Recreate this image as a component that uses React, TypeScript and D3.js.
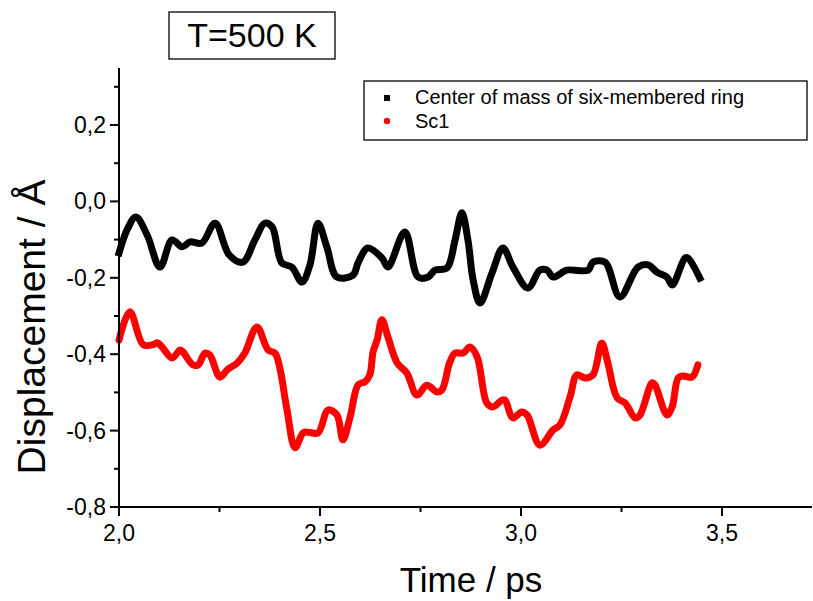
import React from "react";
import * as d3 from "d3";

const ringTime = [2.000,2.022,2.042,2.070,2.102,2.132,2.157,2.177,2.206,2.239,2.274,2.308,2.338,2.363,2.381,2.405,2.430,2.455,2.475,2.495,2.517,2.542,2.582,2.595,2.619,2.654,2.669,2.711,2.744,2.769,2.786,2.816,2.836,2.853,2.868,2.881,2.898,2.928,2.955,2.980,3.017,3.047,3.065,3.080,3.114,3.167,3.179,3.209,3.246,3.291,3.316,3.338,3.363,3.376,3.408,3.415,3.445];
const ringDisp = [-0.135,-0.070,-0.041,-0.088,-0.172,-0.101,-0.119,-0.106,-0.109,-0.057,-0.140,-0.159,-0.101,-0.057,-0.067,-0.161,-0.172,-0.211,-0.166,-0.057,-0.119,-0.198,-0.193,-0.160,-0.122,-0.148,-0.172,-0.080,-0.198,-0.198,-0.180,-0.174,-0.101,-0.030,-0.101,-0.206,-0.266,-0.187,-0.122,-0.172,-0.227,-0.180,-0.180,-0.198,-0.180,-0.180,-0.159,-0.159,-0.250,-0.172,-0.166,-0.185,-0.198,-0.219,-0.148,-0.148,-0.201];

const scTime = [2.000,2.027,2.060,2.085,2.095,2.107,2.132,2.152,2.159,2.184,2.197,2.214,2.226,2.251,2.269,2.294,2.313,2.343,2.371,2.388,2.400,2.418,2.438,2.458,2.470,2.495,2.520,2.542,2.557,2.575,2.595,2.612,2.624,2.632,2.642,2.654,2.669,2.692,2.716,2.741,2.766,2.791,2.803,2.823,2.836,2.856,2.873,2.891,2.915,2.930,2.953,2.960,2.980,3.002,3.015,3.047,3.080,3.097,3.122,3.139,3.159,3.179,3.201,3.216,3.239,3.259,3.284,3.296,3.326,3.333,3.363,3.376,3.391,3.403,3.425,3.440];
const scDisp = [-0.363,-0.289,-0.375,-0.375,-0.370,-0.381,-0.410,-0.389,-0.394,-0.428,-0.428,-0.397,-0.402,-0.460,-0.441,-0.423,-0.397,-0.329,-0.389,-0.397,-0.436,-0.546,-0.645,-0.606,-0.604,-0.606,-0.546,-0.559,-0.624,-0.564,-0.480,-0.472,-0.454,-0.394,-0.363,-0.310,-0.355,-0.423,-0.449,-0.507,-0.481,-0.499,-0.494,-0.421,-0.397,-0.397,-0.381,-0.407,-0.528,-0.538,-0.520,-0.520,-0.567,-0.551,-0.559,-0.638,-0.598,-0.585,-0.512,-0.454,-0.462,-0.454,-0.371,-0.423,-0.514,-0.528,-0.567,-0.559,-0.475,-0.480,-0.559,-0.538,-0.462,-0.457,-0.460,-0.428];

const xMajor = [2.0, 2.5, 3.0, 3.5];
const xMinor = [2.25, 2.75, 3.25];
const yMajor = [0.2, 0.0, -0.2, -0.4, -0.6, -0.8];
const yMinor = [0.3, 0.1, -0.1, -0.3, -0.5, -0.7];
const seriesNames = ["Center of mass of six-membered ring", "Sc1"];

const FONT = "'Liberation Sans', Arial, sans-serif";

export default function App() {
  const W = 813, H = 601;
  const x = d3.scaleLinear().domain([2.0, 3.5]).range([119, 722]);
  const y = d3.scaleLinear().domain([-0.8, 0.2]).range([507, 125]);
  const xEnd = 812;
  const yTop = 68;
  const fmt = (v: number) => v.toFixed(1).replace(".", ",").replace("-0,0", "0,0");

  const line = d3.line<[number, number]>()
    .x(d => x(d[0]))
    .y(d => y(d[1]))
    .curve(d3.curveCatmullRom.alpha(0.5));

  const ringPts = ringTime.map((t, i) => [t, ringDisp[i]] as [number, number]);
  const scPts = scTime.map((t, i) => [t, scDisp[i]] as [number, number]);

  return (
    <svg width={W} height={H} style={{ position: "absolute", left: 0, top: 0, background: "#fff" }} fontFamily={FONT}>
      <rect x={0} y={0} width={W} height={H} fill="#fff" />
      {/* title box */}
      <rect x={169} y={12} width={166} height={47} fill="#fff" stroke="#000" strokeWidth={1.3} />
      <text x={252} y={47} textAnchor="middle" fontSize={34}>T=500 K</text>

      {/* series */}
      <path d={line(scPts) || ""} fill="none" stroke="#ff0000" strokeWidth={7} strokeLinejoin="round" strokeLinecap="round" />
      <path d={line(ringPts) || ""} fill="none" stroke="#000" strokeWidth={7} strokeLinejoin="miter" strokeLinecap="square" />

      {/* axes */}
      <line x1={119} y1={yTop} x2={119} y2={508} stroke="#000" strokeWidth={2} />
      <line x1={118} y1={507} x2={xEnd} y2={507} stroke="#000" strokeWidth={2} />
      {yMajor.map(v => (
        <g key={"ym" + v}>
          <line x1={110} x2={119} y1={y(v)} y2={y(v)} stroke="#000" strokeWidth={2} />
          <text x={106} y={y(v) + 8} textAnchor="end" fontSize={23}>{fmt(v)}</text>
        </g>
      ))}
      {yMinor.map(v => (
        <line key={"yn" + v} x1={114} x2={119} y1={y(v)} y2={y(v)} stroke="#000" strokeWidth={2} />
      ))}
      {xMajor.map(v => (
        <g key={"xm" + v}>
          <line x1={x(v)} x2={x(v)} y1={507} y2={516} stroke="#000" strokeWidth={2} />
          <text x={x(v)} y={541} textAnchor="middle" fontSize={23}>{fmt(v)}</text>
        </g>
      ))}
      {xMinor.map(v => (
        <line key={"xn" + v} x1={x(v)} x2={x(v)} y1={507} y2={512} stroke="#000" strokeWidth={2} />
      ))}

      {/* axis titles */}
      <text x={471} y={592} textAnchor="middle" fontSize={35}>Time / ps</text>
      <text transform="translate(45,327) rotate(-90)" textAnchor="middle" fontSize={39}>Displacement / Å</text>

      {/* legend */}
      <rect x={364} y={81} width={443} height={59} fill="#fff" stroke="#000" strokeWidth={1.3} />
      <rect x={384} y={95} width={6} height={6} fill="#000" />
      <text x={415} y={104} fontSize={20}>{seriesNames[0]}</text>
      <circle cx={387} cy={121} r={3.2} fill="#ff0000" />
      <text x={415} y={128} fontSize={20}>{seriesNames[1]}</text>
    </svg>
  );
}
